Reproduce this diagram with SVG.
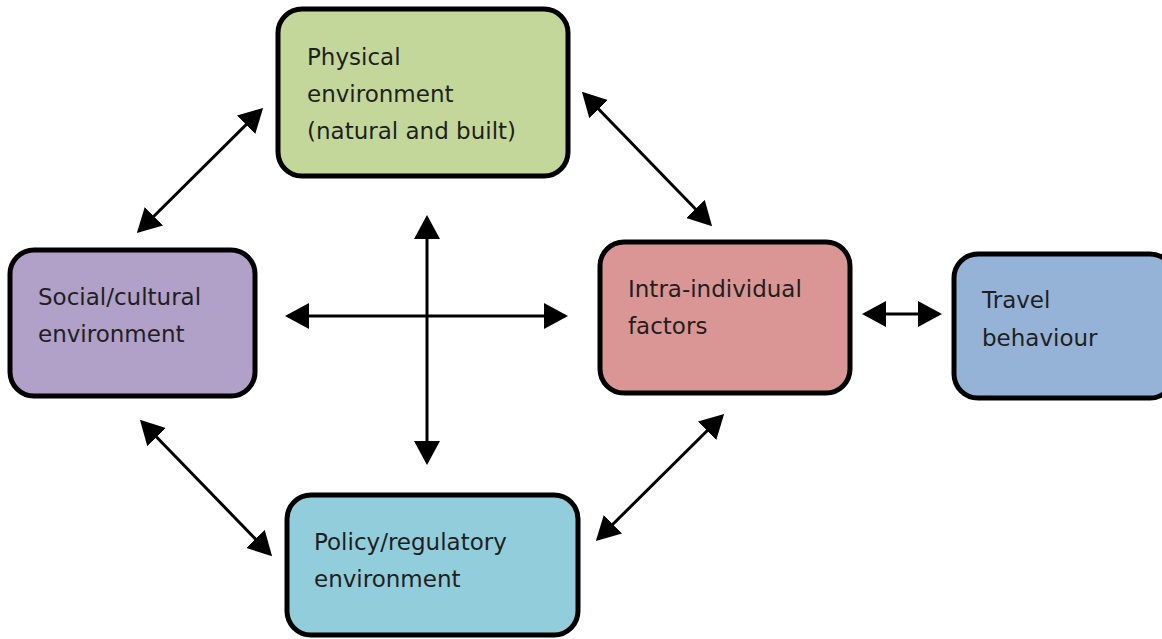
<svg xmlns="http://www.w3.org/2000/svg" width="1162" height="639" viewBox="0 0 1162 639">
<style>
.box{stroke:#000;stroke-width:5}
.lbl{font-family:"DejaVu Sans","Liberation Sans",sans-serif;font-size:23px;fill:#1f1f1f}
.con{stroke:#000;stroke-width:3;fill:none;marker-start:url(#ah);marker-end:url(#ah)}
</style>
<defs>
<marker id="ah" markerUnits="userSpaceOnUse" markerWidth="24" markerHeight="26" refX="21" refY="13" orient="auto-start-reverse" viewBox="0 0 24 26">
<path d="M0,0 L24,13 L0,26 Z" fill="#000"/>
</marker>
</defs>
<rect width="1162" height="639" fill="#fff"/>
<g id="connectors">
<line class="con" x1="139" y1="231" x2="261" y2="110"/>
<line class="con" x1="584" y1="94" x2="710" y2="224"/>
<line class="con" x1="427" y1="218" x2="427" y2="462"/>
<line class="con" x1="288" y1="316" x2="565" y2="316"/>
<line class="con" x1="865" y1="314" x2="939" y2="314"/>
<line class="con" x1="142" y1="422" x2="270" y2="554"/>
<line class="con" x1="722" y1="416" x2="598" y2="539"/>
</g>
<g id="physical">
<rect class="box" x="278" y="9" width="290" height="167" rx="24" fill="#c4d79b"/>
<text class="lbl" x="307" y="65">Physical</text>
<text class="lbl" x="307" y="102">environment</text>
<text class="lbl" x="307" y="139">(natural and built)</text>
</g>
<g id="social">
<rect class="box" x="10" y="250" width="245" height="146" rx="24" fill="#b1a0c7"/>
<text class="lbl" x="38" y="305">Social/cultural</text>
<text class="lbl" x="38" y="342">environment</text>
</g>
<g id="intra">
<rect class="box" x="600" y="242" width="250" height="151" rx="24" fill="#da9694"/>
<text class="lbl" x="628" y="297">Intra-individual</text>
<text class="lbl" x="628" y="334">factors</text>
</g>
<g id="travel">
<rect class="box" x="954" y="254" width="220" height="144" rx="24" fill="#95b3d7"/>
<text class="lbl" x="982" y="308">Travel</text>
<text class="lbl" x="982" y="346">behaviour</text>
</g>
<g id="policy">
<rect class="box" x="287" y="495" width="291" height="140" rx="24" fill="#92cddc"/>
<text class="lbl" x="314" y="550">Policy/regulatory</text>
<text class="lbl" x="314" y="587">environment</text>
</g>
</svg>
